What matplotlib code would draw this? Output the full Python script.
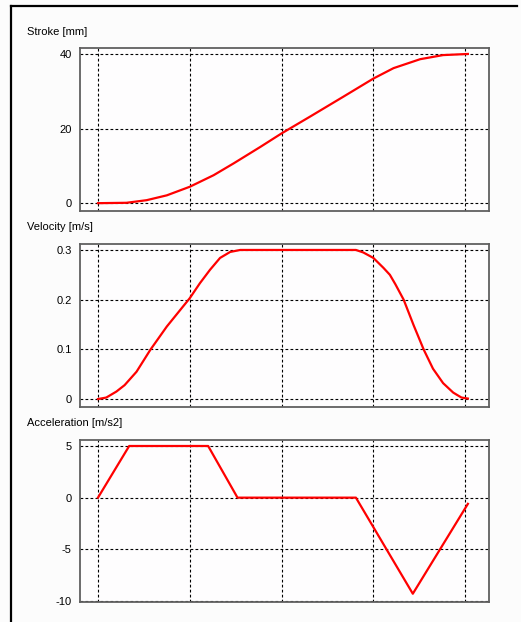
import matplotlib
matplotlib.use("Agg")
from matplotlib import pyplot as plt
from matplotlib.lines import Line2D

# time axis in grid units (no tick labels on x)
stroke_t = [0.0, 0.31, 0.53, 0.75, 1.0, 1.26, 1.48, 1.77, 2.0, 2.31, 2.67, 3.0, 3.22, 3.51, 3.76, 4.03]
stroke_mm = [0.0, 0.1, 0.8, 2.1, 4.4, 7.5, 10.7, 15.1, 18.7, 23.2, 28.5, 33.4, 36.2, 38.6, 39.7, 40.0]

velocity_t = [0.0, 0.09, 0.2, 0.29, 0.42, 0.57, 0.75, 1.0, 1.11, 1.22, 1.33, 1.44, 1.55,
              2.81, 2.89, 3.0, 3.11, 3.18, 3.24, 3.33, 3.44, 3.55, 3.65, 3.76, 3.87, 3.96, 4.03]
velocity_ms = [0.0, 0.003, 0.015, 0.028, 0.055, 0.099, 0.146, 0.203, 0.233, 0.26, 0.284, 0.296, 0.3,
               0.3, 0.295, 0.284, 0.264, 0.25, 0.231, 0.2, 0.148, 0.099, 0.061, 0.032, 0.013, 0.003, 0.001]

accel_t = [0.0, 0.34, 1.20, 1.52, 2.81, 3.43, 4.03]
accel_ms2 = [0.0, 5.0, 5.0, 0.0, 0.0, -9.3, -0.6]

x_grid = [0, 1, 2, 3, 4]

panels = [
    ("Stroke [mm]", stroke_t, stroke_mm, [0, 20, 40], ["0", "20", "40"], (-2.1, 41.6)),
    ("Velocity [m/s]", velocity_t, velocity_ms, [0, 0.1, 0.2, 0.3], ["0", "0.1", "0.2", "0.3"], (-0.016, 0.312)),
    ("Acceleration [m/s2]", accel_t, accel_ms2, [-10, -5, 0, 5], ["-10", "-5", "0", "5"], (-10.1, 5.58)),
]

W, H = 521, 622
plt.rcParams["font.family"] = ["Liberation Sans", "DejaVu Sans"]
fig = plt.figure(figsize=(W / 100, H / 100), dpi=100, facecolor="#fcfcfc")

# axes boxes in pixels: (top, bottom), label y
boxes = [(48, 211, 32), (244, 407, 227), (440, 602, 423)]
left, right = 80, 489

for (title, t, v, yt, ytl, ylim), (top, bot, ly) in zip(panels, boxes):
    ax = fig.add_axes([left / W, 1 - bot / H, (right - left) / W, (bot - top) / H])
    ax.set_facecolor("#fefdfe")
    ax.plot(t, v, color="#ff0000", lw=1.6, zorder=3)
    ax.set_xlim(-0.196, 4.26)
    ax.set_ylim(*ylim)
    ax.set_xticks(x_grid)
    ax.set_xticklabels([])
    ax.set_yticks(yt)
    ax.set_yticklabels(ytl)
    ax.tick_params(length=0, pad=6, labelsize=8)
    ax.grid(True, color="black", lw=0.8, linestyle=(0, (2.5, 2)))
    for s in ax.spines.values():
        s.set_color("#606060")
        s.set_linewidth(1.3)
    fig.text(27 / W, 1 - ly / H, title, fontsize=8, ha="left", va="center")

# outer frame (top and left edges)
fig.add_artist(Line2D([11 / W, 517 / W], [1 - 6 / H, 1 - 6 / H], color="black", lw=1.6))
fig.add_artist(Line2D([11 / W, 11 / W], [1 - 6 / H, 0], color="black", lw=1.6))

fig.savefig("out.png", dpi=100, facecolor=fig.get_facecolor())
